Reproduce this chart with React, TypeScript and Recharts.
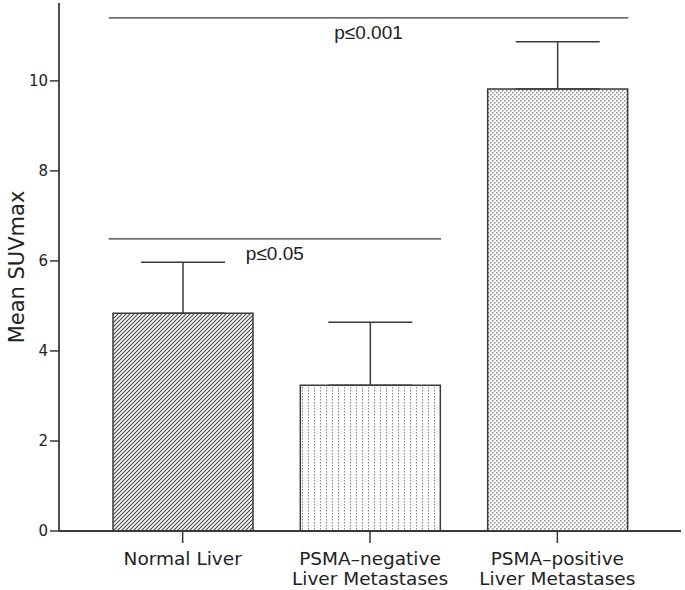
import React from 'react';
import {
  BarChart,
  Bar,
  Cell,
  XAxis,
  YAxis,
  ErrorBar,
  ReferenceLine,
} from 'recharts';

const categories = [
  'Normal Liver',
  'PSMA–negative\nLiver Metastases',
  'PSMA–positive\nLiver Metastases',
];
const meanSuv = [4.84, 3.24, 9.82];
const errUpper = [1.13, 1.4, 1.05];
const yTicks = [0, 2, 4, 6, 8, 10];

// significance brackets: from category index, to category index, height, label
const sigFrom = [0, 0];
const sigTo = [2, 1];
const sigHeight = [11.4, 6.49];
const sigText = ['p≤0.001', 'p≤0.05'];

const fills = ['url(#hatch)', 'url(#vdots)', 'url(#checker)'];
const BAR = 140;
const INK = '#3a3a3a';

const data = categories.map((name, i) => ({
  name,
  mean: meanSuv[i],
  err: [0, errUpper[i]],
}));

function CategoryTick(props: any) {
  const { x, y, payload } = props;
  const lines = String(payload.value).split('\n');
  return (
    <text
      x={x}
      y={y}
      textAnchor="middle"
      fill="#222"
      fontFamily="DejaVu Sans"
      fontSize={18.5}
    >
      {lines.map((l, i) => (
        <tspan key={i} x={x} dy={i === 0 ? 22 : 20}>
          {l}
        </tspan>
      ))}
    </text>
  );
}

function sigShape(text: string) {
  return (props: any) => {
    const { x1, x2, y1 } = props;
    const a = Math.min(x1, x2) - BAR / 2 - 4;
    const b = Math.max(x1, x2) + BAR / 2 + 1;
    return (
      <g>
        <line x1={a} x2={b} y1={y1} y2={y1} stroke={INK} strokeWidth={1.2} />
        <text
          x={(a + b) / 2}
          y={y1 + 21}
          textAnchor="middle"
          fill="#222"
          fontFamily="Liberation Sans"
          fontSize={19}
        >
          {text}
        </text>
      </g>
    );
  };
}

export default function App() {
  return (
    <div style={{ position: 'absolute', left: 0, top: 0, background: '#fff' }}>
      <BarChart
        width={685}
        height={590}
        data={data}
        margin={{ top: 3, right: 4, left: 0, bottom: 0 }}
      >
        <defs>
          <pattern id="hatch" width="4" height="4" patternUnits="userSpaceOnUse">
            <rect width="4" height="4" fill="#fff" />
            <path d="M-1,1 l2,-2 M0,4 l4,-4 M3,5 l2,-2" stroke="#444" strokeWidth={1.1} />
          </pattern>
          <pattern id="vdots" width="6" height="3" patternUnits="userSpaceOnUse">
            <rect width="6" height="3" fill="#fff" />
            <rect x="2" y="0" width="1" height="1.5" fill="#8a8a8a" />
          </pattern>
          <pattern id="checker" width="4" height="4" patternUnits="userSpaceOnUse">
            <rect width="4" height="4" fill="#fff" />
            <rect x="0" y="0" width="1.6" height="1.6" fill="#9a9a9a" />
            <rect x="2" y="2" width="1.6" height="1.6" fill="#9a9a9a" />
          </pattern>
        </defs>
        <XAxis
          dataKey="name"
          height={59}
          padding={{ left: 30, right: 30 }}
          axisLine={{ stroke: INK, strokeWidth: 1.8 }}
          tickLine={{ stroke: INK, strokeWidth: 1.5 }}
          tickSize={12}
          tickMargin={0}
          tick={<CategoryTick />}
          interval={0}
        />
        <XAxis
          xAxisId="top"
          dataKey="name"
          orientation="top"
          height={0}
          tick={false}
          tickLine={false}
          axisLine={{ stroke: '#777', strokeWidth: 1.5 }}
        />
        <YAxis
          width={59}
          domain={[0, 11.73]}
          ticks={yTicks}
          allowDataOverflow
          axisLine={{ stroke: INK, strokeWidth: 1.8 }}
          tickLine={{ stroke: INK, strokeWidth: 1.5 }}
          tickSize={9}
          tickMargin={2}
          tick={{ fill: '#222', fontSize: 15, fontFamily: 'DejaVu Sans' }}
          label={{
            value: 'Mean SUVmax',
            angle: -90,
            position: 'insideLeft',
            offset: 17,
            style: {
              fill: '#222',
              fontSize: 21,
              fontFamily: 'DejaVu Sans',
              textAnchor: 'middle',
            },
          }}
        />
        <YAxis
          yAxisId="right"
          orientation="right"
          width={0}
          domain={[0, 11.73]}
          tick={false}
          tickLine={false}
          axisLine={{ stroke: '#777', strokeWidth: 1.5 }}
        />
        <Bar
          dataKey="mean"
          barSize={BAR}
          stroke={INK}
          strokeWidth={1.5}
          isAnimationActive={false}
        >
          {data.map((d, i) => (
            <Cell key={d.name} fill={fills[i]} />
          ))}
          <ErrorBar
            dataKey="err"
            direction="y"
            width={42}
            stroke={INK}
            strokeWidth={1.5}
            isAnimationActive={false}
          />
        </Bar>
        {sigText.map((t, i) => (
          <ReferenceLine
            key={t}
            segment={[
              { x: categories[sigFrom[i]], y: sigHeight[i] },
              { x: categories[sigTo[i]], y: sigHeight[i] },
            ]}
            shape={sigShape(t)}
            ifOverflow="visible"
          />
        ))}
      </BarChart>
    </div>
  );
}
